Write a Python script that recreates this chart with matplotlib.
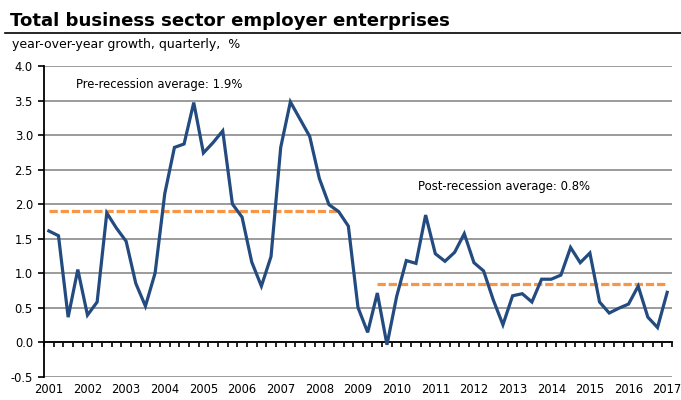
import numpy as np
import matplotlib.pyplot as plt
from matplotlib.lines import Line2D

# quarterly y/y growth, 2001Q1 - 2017Q1
growth = [1.61, 1.54, 0.36, 1.05, 0.39, 0.58, 1.87, 1.65, 1.46, 0.85,
          0.52, 1.00, 2.15, 2.82, 2.87, 3.47, 2.74, 2.89, 3.06, 2.00,
          1.81, 1.16, 0.81, 1.24, 2.82, 3.48, 3.23, 2.98, 2.37, 1.99,
          1.89, 1.68, 0.50, 0.14, 0.71, -0.04, 0.66, 1.18, 1.14, 1.84,
          1.28, 1.17, 1.30, 1.57, 1.15, 1.03, 0.61, 0.25, 0.67, 0.70,
          0.58, 0.91, 0.91, 0.97, 1.37, 1.15, 1.29, 0.58, 0.42, 0.49,
          0.55, 0.81, 0.36, 0.21, 0.72]
years = [str(y) for y in range(2001, 2018)]

pre_avg = 1.9
pre_start, pre_end = 0, 30      # 2001Q1 - 2008Q3
post_avg = 0.84
post_start, post_end = 34, 64   # 2009Q3 - 2017Q1

plt.rcParams['font.family'] = ['DejaVu Sans']

fig = plt.figure(figsize=(6.81, 4.0), dpi=100)
ax = fig.add_axes([0.0646, 0.0587, 0.9222, 0.7763])

x = np.arange(len(growth))
ax.plot(x, growth, color='#234B80', lw=2.3, solid_joinstyle='miter', zorder=4)

ax.plot([pre_start, pre_end], [pre_avg, pre_avg], color='#F79646', lw=2.3,
        dashes=(2.6, 0.9), zorder=3)
ax.plot([post_start, post_end], [post_avg, post_avg], color='#F79646', lw=2.3,
        dashes=(2.6, 0.9), zorder=3)

ax.text(2.8, 3.73, 'Pre-recession average: 1.9%', fontsize=8.4,
        va='center', ha='left')
ax.text(38.2, 2.26, 'Post-recession average: 0.8%', fontsize=8.4,
        va='center', ha='left')

ax.set_xlim(-0.5, len(growth) - 0.5)
ax.set_ylim(-0.5, 4.0)
ax.set_yticks(np.arange(-0.5, 4.01, 0.5))
ax.set_yticklabels([f'{v:.1f}' for v in np.arange(-0.5, 4.01, 0.5)])
ax.yaxis.grid(True, color='#939393', lw=1.3)
ax.set_axisbelow(True)
ax.tick_params(axis='y', length=4, width=1.2, pad=4, labelsize=8.3)

for s in ['top', 'right']:
    ax.spines[s].set_visible(False)
ax.spines['left'].set_linewidth(1.3)
ax.spines['bottom'].set_position(('data', 0))
ax.spines['bottom'].set_linewidth(1.3)
ax.set_xticks(np.arange(-0.5, len(growth), 1.0))
ax.tick_params(axis='x', direction='out', length=3.5, width=1.2,
               labelbottom=False)

sec = ax.secondary_xaxis('bottom')
sec.set_xticks(np.arange(0, len(growth), 4))
sec.set_xticklabels(years)
sec.tick_params(length=0, pad=5, labelsize=8.3)
sec.spines['bottom'].set_visible(False)

fig.text(0.015, 0.935, 'Total business sector employer enterprises',
         fontsize=13.1, fontweight='bold', ha='left', va='baseline')
fig.add_artist(Line2D([0.007, 1.0], [0.917, 0.917], color='black', lw=1.2,
                      transform=fig.transFigure))
fig.text(0.018, 0.88, 'year-over-year growth, quarterly,  %', fontsize=9.0,
         ha='left', va='baseline')

fig.savefig('out.png', dpi=100)
